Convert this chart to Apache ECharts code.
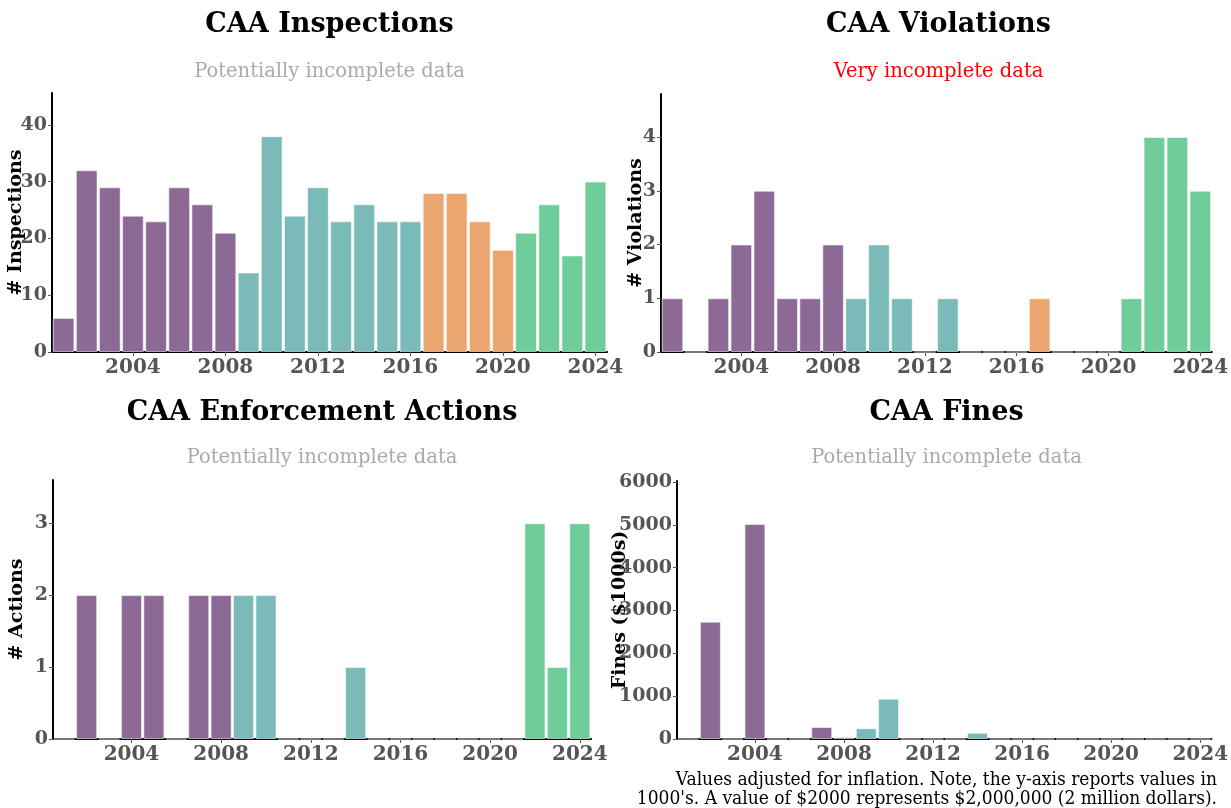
<!DOCTYPE html>
<html>
<head>
<meta charset="utf-8">
<title>CAA charts</title>
<script src="https://cdn.jsdelivr.net/npm/echarts@6/dist/echarts.min.js"></script>
<style>
  html, body { margin: 0; padding: 0; background: #fff; }
  #chart { width: 1231px; height: 808px; }
</style>
</head>
<body>
<div id="chart"></div>
<script>
// years on the x axis
const years = [2001, 2002, 2003, 2004, 2005, 2006, 2007, 2008, 2009, 2010, 2011, 2012,
  2013, 2014, 2015, 2016, 2017, 2018, 2019, 2020, 2021, 2022, 2023, 2024]

const inspections = [6, 32, 29, 24, 23, 29, 26, 21, 14, 38, 24, 29, 23, 26, 23, 23, 28, 28, 23, 18, 21, 26, 17, 30]
const violations = [1, 0, 1, 2, 3, 1, 1, 2, 1, 2, 1, 0, 1, 0, 0, 0, 1, 0, 0, 0, 1, 4, 4, 3]
const actions = [0, 2, 0, 2, 2, 0, 2, 2, 2, 2, 0, 0, 0, 1, 0, 0, 0, 0, 0, 0, 0, 3, 1, 3]
const fines = [0, 2740, 0, 5020, 0, 0, 280, 45, 250, 940, 0, 0, 0, 145, 0, 0, 0, 0, 0, 0, 0, 0, 0, 0]

// y tick labels
const inspTicks = [0, 10, 20, 30, 40]
const violTicks = [0, 1, 2, 3, 4]
const actTicks = [0, 1, 2, 3]
const fineTicks = [0, 1000, 2000, 3000, 4000, 5000, 6000]

// colour by period (start year of each period)
const periodStarts = [2001, 2009, 2017, 2021]
const periodColors = ['#8d6a96', '#7abab9', '#eba670', '#6fcd99']

function colorFor(year) {
    let c = periodColors[0]
    periodStarts.forEach((s, i) => { if (year >= s) c = periodColors[i] })
    return c
}

const serif = 'DejaVu Serif'
const labelGray = '#555'

// grid boxes [left, top, width, height]
const boxes = [
    [52, 93, 555, 259],
    [661, 94, 555, 258],
    [53, 480, 538, 259],
    [677, 481, 539, 258]
]

const panels = [
    { title: 'CAA Inspections', sub: 'Potentially incomplete data', subColor: '#aaa', name: '# Inspections', gap: 26, data: inspections, ticks: inspTicks, ty: 11, sy: 62 },
    { title: 'CAA Violations', sub: 'Very incomplete data', subColor: '#ff0000', name: '# Violations', gap: 15, data: violations, ticks: violTicks, ty: 11, sy: 62 },
    { title: 'CAA Enforcement Actions', sub: 'Potentially incomplete data', subColor: '#aaa', name: '# Actions', gap: 26, data: actions, ticks: actTicks, ty: 399, sy: 448 },
    { title: 'CAA Fines', sub: 'Potentially incomplete data', subColor: '#aaa', name: 'Fines ($1000s)', gap: 47, data: fines, ticks: fineTicks, ty: 399, sy: 448 }
]

const showYear = (idx, val) => Number(val) % 4 === 0

const titles = []
const grids = []
const xAxes = []
const yAxes = []
const series = []

panels.forEach((p, i) => {
    const b = boxes[i]
    const cx = b[0] + b[2] / 2
    titles.push({
        text: p.title, left: cx, top: p.ty, textAlign: 'center', padding: 0,
        textStyle: { fontFamily: serif, fontSize: 27, fontWeight: 'bold', color: '#000' }
    })
    titles.push({
        text: p.sub, left: cx, top: p.sy, textAlign: 'center', padding: 0,
        textStyle: { fontFamily: serif, fontSize: 19.5, fontWeight: 'normal', color: p.subColor }
    })
    grids.push({ left: b[0], top: b[1], width: b[2], height: b[3] })
    xAxes.push({
        type: 'category', gridIndex: i, data: years.map(String),
        axisLine: { lineStyle: { color: '#000', width: 2 } },
        axisTick: { show: true, alignWithLabel: true, interval: showYear, length: 4, lineStyle: { color: '#555' } },
        axisLabel: { interval: showYear, margin: 6, fontFamily: serif, fontSize: 20, fontWeight: 'bold', color: labelGray },
        splitLine: { show: false }
    })
    const maxVal = Math.max(...p.data)
    yAxes.push({
        type: 'value', gridIndex: i, min: 0, max: maxVal * 1.2,
        name: p.name, nameLocation: 'middle', nameGap: p.gap, nameMoveOverlap: false,
        nameTextStyle: { fontFamily: serif, fontSize: 19, fontWeight: 'bold', color: '#000' },
        axisLine: { show: true, lineStyle: { color: '#000', width: 2 } },
        axisTick: { show: true, customValues: p.ticks, length: 4, lineStyle: { color: '#555' } },
        axisLabel: {
            customValues: p.ticks, margin: 5, formatter: (v) => String(v),
            fontFamily: serif, fontSize: 19, fontWeight: 'bold', color: labelGray
        },
        splitLine: { show: false }
    })
    series.push({
        type: 'bar', xAxisIndex: i, yAxisIndex: i, data: p.data,
        barCategoryGap: '6%',
        itemStyle: {
            color: (params) => colorFor(years[params.dataIndex]),
            borderColor: 'rgba(255,255,255,0.55)', borderWidth: 1
        }
    })
})

const chart = echarts.init(document.getElementById('chart'))
chart.setOption({
    animation: false,
    title: titles,
    grid: grids,
    xAxis: xAxes,
    yAxis: yAxes,
    series: series,
    graphic: [{
        type: 'text', x: 1217, y: 771,
        style: {
            text: "Values adjusted for inflation. Note, the y-axis reports values in\n1000's. A value of $2000 represents $2,000,000 (2 million dollars).",
            align: 'right', verticalAlign: 'top', lineHeight: 19,
            font: '19px "DejaVu Serif Condensed", "DejaVu Serif", serif', fill: '#000'
        }
    }]
})
</script>
</body>
</html>
